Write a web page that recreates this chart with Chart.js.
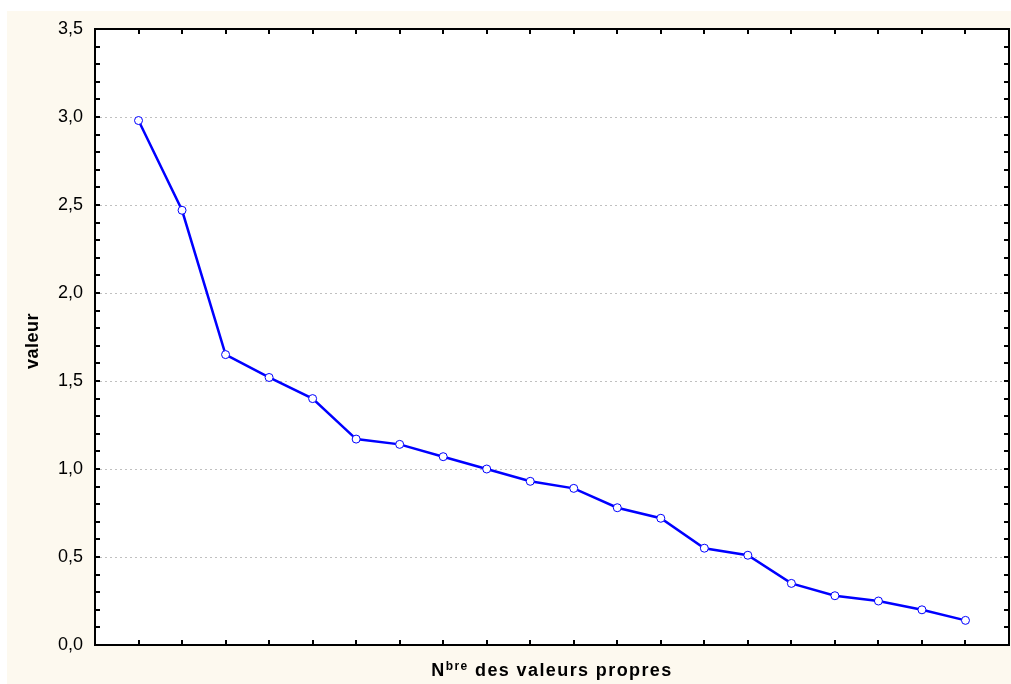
<!DOCTYPE html>
<html>
<head>
<meta charset="utf-8">
<script src="https://cdn.jsdelivr.net/npm/chart.js@4.4.0/dist/chart.umd.min.js"></script>
<style>
html, body { margin: 0; padding: 0; background: #fff; overflow: hidden; }
#wrap { width: 1011px; height: 684px; position: relative; }
</style>
</head>
<body>
<div id="wrap"><canvas id="scree"></canvas></div>
<script>
// ---- data ----
var componentNumbers = [1, 2, 3, 4, 5, 6, 7, 8, 9, 10, 11, 12, 13, 14, 15, 16, 17, 18, 19, 20];
var eigenValues = [2.98, 2.47, 1.65, 1.52, 1.40, 1.17, 1.14, 1.07, 1.00, 0.93, 0.89, 0.78, 0.72, 0.55, 0.51, 0.35, 0.28, 0.25, 0.20, 0.14];
var yTickLabels = ['0,0', '0,5', '1,0', '1,5', '2,0', '2,5', '3,0', '3,5'];
var yMin = 0, yMax = 3.5, yMajorStep = 0.5, yMinorStep = 0.1;
var xMin = 0, xMax = 21;
var xTitleMain = 'N', xTitleSup = 'bre', xTitleRest = ' des valeurs propres';
var yTitle = 'valeur';

var FONT = '"Liberation Sans", Arial, sans-serif';

// cream page, white plot, frame with inward ticks, axis titles
var frame = {
    id: 'frame',
    beforeDraw: function(chart) {
        let ctx = chart.ctx, a = chart.chartArea;
        ctx.save();
        ctx.fillStyle = '#fdf9ef';
        ctx.fillRect(7, 11, chart.width - 7, chart.height - 11);
        ctx.fillStyle = '#ffffff';
        ctx.fillRect(a.left, a.top, a.right - a.left, a.bottom - a.top);
        ctx.restore();
    },
    afterDraw: function(chart) {
        let ctx = chart.ctx, a = chart.chartArea;
        let xs = chart.scales.x, ys = chart.scales.y;
        ctx.save();
        ctx.strokeStyle = '#000';
        ctx.lineWidth = 2;
        // ticks
        ctx.beginPath();
        componentNumbers.forEach(function(n) {
            let px = Math.round(xs.getPixelForValue(n));
            ctx.moveTo(px, a.bottom); ctx.lineTo(px, a.bottom - 5);
            ctx.moveTo(px, a.top); ctx.lineTo(px, a.top + 5);
        });
        for (let v = yMin; v <= yMax + 1e-9; v += yMinorStep) {
            let py = Math.round(ys.getPixelForValue(v));
            ctx.moveTo(a.left, py); ctx.lineTo(a.left + 5, py);
            ctx.moveTo(a.right, py); ctx.lineTo(a.right - 5, py);
        }
        ctx.stroke();
        ctx.lineWidth = 2;
        ctx.strokeRect(a.left, a.top, a.right - a.left, a.bottom - a.top);

        // x title with superscript
        ctx.fillStyle = '#000';
        ctx.textBaseline = 'alphabetic';
        ctx.textAlign = 'left';
        ctx.letterSpacing = '1.4px';
        let big = 'bold 18px ' + FONT, small = 'bold 12px ' + FONT;
        ctx.font = big;
        let w1 = ctx.measureText(xTitleMain).width;
        let w3 = ctx.measureText(xTitleRest).width;
        ctx.font = small;
        let w2 = ctx.measureText(xTitleSup).width;
        let x0 = (a.left + a.right) / 2 - (w1 + w2 + w3) / 2;
        let base = 676;
        ctx.font = big;
        ctx.fillText(xTitleMain, x0, base);
        ctx.font = small;
        ctx.fillText(xTitleSup, x0 + w1, base - 6);
        ctx.font = big;
        ctx.fillText(xTitleRest, x0 + w1 + w2, base);

        // y title
        ctx.letterSpacing = '0.5px';
        ctx.translate(33, (a.top + a.bottom) / 2 + 4);
        ctx.rotate(-Math.PI / 2);
        ctx.textAlign = 'center';
        ctx.textBaseline = 'middle';
        ctx.font = big;
        ctx.fillText(yTitle, 0, 0);
        ctx.restore();
    }
};

new Chart(document.getElementById('scree'), {
    type: 'line',
    data: {
        datasets: [{
            data: componentNumbers.map((n, i) => ({x: n, y: eigenValues[i]})),
            borderColor: '#0000ff',
            borderWidth: 2.5,
            tension: 0,
            pointRadius: 4,
            pointBackgroundColor: '#ffffff',
            pointBorderColor: '#0000ff',
            pointBorderWidth: 1
        }]
    },
    options: {
        responsive: true,
        maintainAspectRatio: false,
        animation: false,
        layout: { autoPadding: false, padding: { left: 0, top: 29, right: 2, bottom: 0 } },
        plugins: { legend: { display: false }, tooltip: { enabled: false } },
        scales: {
            x: {
                type: 'linear',
                min: xMin,
                max: xMax,
                ticks: { display: false },
                grid: { display: false },
                border: { display: false },
                afterFit: function(s) { s.height = 39; }
            },
            y: {
                min: yMin,
                max: yMax,
                ticks: {
                    stepSize: yMajorStep,
                    color: '#000',
                    padding: 12,
                    font: { family: FONT, size: 18 },
                    callback: function(v) { return yTickLabels[Math.round(v / yMajorStep)]; }
                },
                grid: { color: '#c0c0c0', lineWidth: 1, drawTicks: false },
                border: { display: false, dash: [2, 3] },
                afterFit: function(s) { s.width = 95; }
            }
        }
    },
    plugins: [frame]
});
</script>
</body>
</html>
